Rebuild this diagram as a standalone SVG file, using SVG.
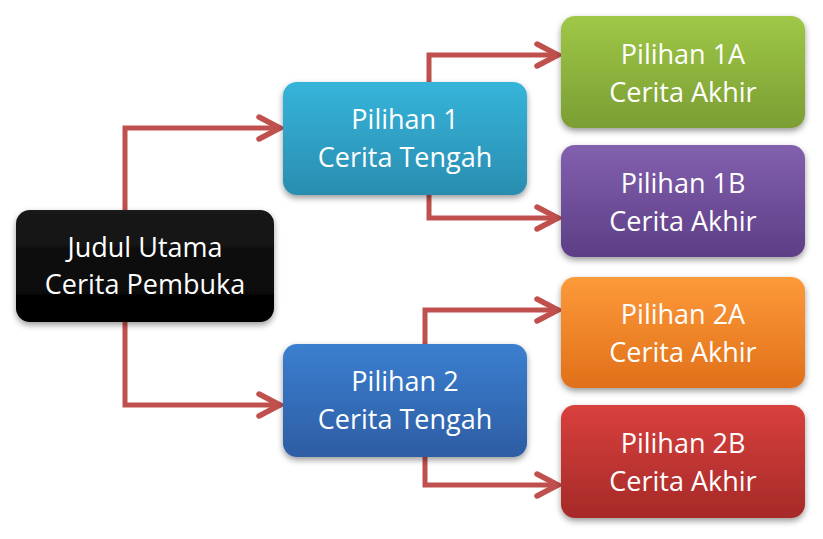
<svg xmlns="http://www.w3.org/2000/svg" width="823" height="539" viewBox="0 0 823 539">
<defs>
<style>
.t{font-family:"Open Sans","Noto Sans","DejaVu Sans",sans-serif;font-size:27px;fill:#fff;text-anchor:middle}
.c{fill:none;stroke:#c0504d;stroke-width:5;stroke-linejoin:miter}
.box{filter:url(#sh)}
</style>
<filter id="sh" x="-10%" y="-10%" width="125%" height="135%">
<feDropShadow dx="0" dy="3" stdDeviation="3" flood-color="#000" flood-opacity="0.4"/>
</filter>
<marker id="ar" viewBox="0 0 28 28" refX="25" refY="14" markerWidth="28" markerHeight="28" markerUnits="userSpaceOnUse" orient="auto">
<path d="M3,3 L24,14 L3,25" fill="none" stroke="#c0504d" stroke-width="5.5" stroke-linecap="round" stroke-linejoin="miter"/>
</marker>
<linearGradient id="gK" x1="0" y1="0" x2="0" y2="1"><stop offset="0" stop-color="#1a1a1a"/><stop offset="1" stop-color="#000"/></linearGradient>
<linearGradient id="gC" x1="0" y1="0" x2="0" y2="1"><stop offset="0" stop-color="#36b4da"/><stop offset="1" stop-color="#2a8db0"/></linearGradient>
<linearGradient id="gB" x1="0" y1="0" x2="0" y2="1"><stop offset="0" stop-color="#3b7fcf"/><stop offset="1" stop-color="#2d5da3"/></linearGradient>
<linearGradient id="gG" x1="0" y1="0" x2="0" y2="1"><stop offset="0" stop-color="#9fc847"/><stop offset="1" stop-color="#7b9d33"/></linearGradient>
<linearGradient id="gP" x1="0" y1="0" x2="0" y2="1"><stop offset="0" stop-color="#8260ae"/><stop offset="1" stop-color="#5d3e86"/></linearGradient>
<linearGradient id="gO" x1="0" y1="0" x2="0" y2="1"><stop offset="0" stop-color="#fd9a3a"/><stop offset="1" stop-color="#e07019"/></linearGradient>
<linearGradient id="gR" x1="0" y1="0" x2="0" y2="1"><stop offset="0" stop-color="#d8403d"/><stop offset="1" stop-color="#a62a28"/></linearGradient>
</defs>
<rect width="823" height="539" fill="#fff"/>
<g id="connectors">
<path class="c" d="M125,210 V128 H281" marker-end="url(#ar)"/>
<path class="c" d="M125,322 V405 H281" marker-end="url(#ar)"/>
<path class="c" d="M429,82 V55 H559" marker-end="url(#ar)"/>
<path class="c" d="M429,195 V218 H559" marker-end="url(#ar)"/>
<path class="c" d="M425,344 V310 H559" marker-end="url(#ar)"/>
<path class="c" d="M425,457 V485 H559" marker-end="url(#ar)"/>
</g>
<g id="root">
<rect class="box" x="16" y="210" width="258" height="112" rx="14" fill="url(#gK)"/>
<text class="t" x="145" y="257">Judul Utama</text>
<text class="t" x="145" y="294">Cerita Pembuka</text>
</g>
<g id="p1">
<rect class="box" x="283" y="82" width="244" height="113" rx="14" fill="url(#gC)"/>
<text class="t" x="405" y="129">Pilihan 1</text>
<text class="t" x="405" y="167">Cerita Tengah</text>
</g>
<g id="p2">
<rect class="box" x="283" y="344" width="244" height="113" rx="14" fill="url(#gB)"/>
<text class="t" x="405" y="391">Pilihan 2</text>
<text class="t" x="405" y="429">Cerita Tengah</text>
</g>
<g id="p1a">
<rect class="box" x="561" y="16" width="244" height="112" rx="14" fill="url(#gG)"/>
<text class="t" x="683" y="64">Pilihan 1A</text>
<text class="t" x="683" y="102">Cerita Akhir</text>
</g>
<g id="p1b">
<rect class="box" x="561" y="145" width="244" height="112" rx="14" fill="url(#gP)"/>
<text class="t" x="683" y="193">Pilihan 1B</text>
<text class="t" x="683" y="231">Cerita Akhir</text>
</g>
<g id="p2a">
<rect class="box" x="561" y="277" width="244" height="111" rx="14" fill="url(#gO)"/>
<text class="t" x="683" y="324">Pilihan 2A</text>
<text class="t" x="683" y="362">Cerita Akhir</text>
</g>
<g id="p2b">
<rect class="box" x="561" y="405" width="244" height="113" rx="14" fill="url(#gR)"/>
<text class="t" x="683" y="453">Pilihan 2B</text>
<text class="t" x="683" y="491">Cerita Akhir</text>
</g>
</svg>
